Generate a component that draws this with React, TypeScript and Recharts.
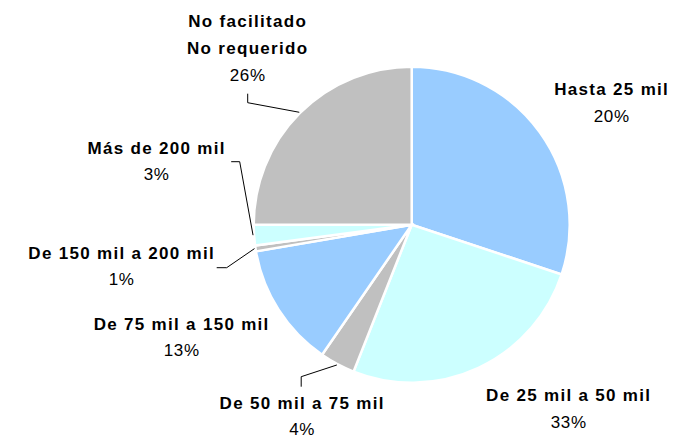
import React from 'react';
import { PieChart, Pie, Cell } from 'recharts';

// slice shares as drawn in the picture (clockwise from 12 o'clock)
const categories = [
  ['Hasta 25 mil'],
  ['De 25 mil a 50 mil'],
  ['De 50 mil a 75 mil'],
  ['De 75 mil a 150 mil'],
  ['De 150 mil a 200 mil'],
  ['Más de 200 mil'],
  ['No facilitado', 'No requerido'],
];
const sliceShares = [30.1, 25.9, 3.6, 12.7, 0.6, 2.1, 25.0];
const percentLabels = ['20%', '33%', '4%', '13%', '1%', '3%', '26%'];

const COLORS = ['#99CCFF', '#CCFFFF', '#C0C0C0', '#99CCFF', '#C0C0C0', '#CCFFFF', '#C0C0C0'];

const data = categories.map((name, i) => ({ name: name.join(' '), value: sliceShares[i] }));

// label anchors relative to pie centre, plus leader line bends
const labelLayout: { dx: number; dy: number; leader?: number[][] }[] = [
  { dx: 200, dy: -129.5 },
  { dx: 157, dy: 176.5 },
  { dx: -109.5, dy: 184, leader: [[-110.5, 152], [-110.5, 162]] },
  { dx: -230, dy: 105 },
  { dx: -290, dy: 34, leader: [[-185, 43], [-195, 43]] },
  { dx: -255, dy: -71, leader: [[-172, -63], [-180.5, -63]] },
  { dx: -164, dy: -197.5, leader: [[-164, -122], [-164, -131]] },
];

const LINE = 26.7;
const FONT = '"Liberation Sans", Arial, sans-serif';

const renderLabel = (props: any) => {
  const { cx, cy, midAngle, outerRadius, index } = props;
  const lay = labelLayout[index];
  const RAD = Math.PI / 180;
  const ax = cx + (outerRadius + 1) * Math.cos(-midAngle * RAD);
  const ay = cy + (outerRadius + 1) * Math.sin(-midAngle * RAD);
  const x = cx + lay.dx;
  const y = cy + lay.dy;
  const lines = categories[index];
  return (
    <g key={`lbl-${index}`}>
      {lay.leader && (
        <polyline
          points={[[ax, ay], ...lay.leader.map(p => [cx + p[0], cy + p[1]])].map(p => p.join(',')).join(' ')}
          fill="none"
          stroke="#000"
          strokeWidth={1}
        />
      )}
      <text x={x} y={y} textAnchor="middle" fontFamily={FONT} fontSize={17} fill="#000">
        {lines.map((l, i) => (
          <tspan key={i} x={x} dy={i === 0 ? 0 : LINE} fontWeight="bold" letterSpacing={1.3}>
            {l}
          </tspan>
        ))}
        <tspan x={x} dy={LINE} letterSpacing={0.6}>
          {percentLabels[index]}
        </tspan>
      </text>
    </g>
  );
};

export default function App() {
  return (
    <div style={{ position: 'absolute', left: 0, top: 0, width: 677, height: 438, background: '#fff' }}>
      <PieChart width={677} height={438} margin={{ top: 0, right: 0, bottom: 0, left: 0 }}>
        <Pie
          data={data}
          dataKey="value"
          cx={411.7}
          cy={224.7}
          outerRadius={158}
          startAngle={90}
          endAngle={-270}
          stroke="#fff"
          strokeWidth={2.5}
          label={renderLabel}
          labelLine={false}
          isAnimationActive={false}
        >
          {data.map((d, i) => (
            <Cell key={d.name} fill={COLORS[i]} />
          ))}
        </Pie>
      </PieChart>
    </div>
  );
}
